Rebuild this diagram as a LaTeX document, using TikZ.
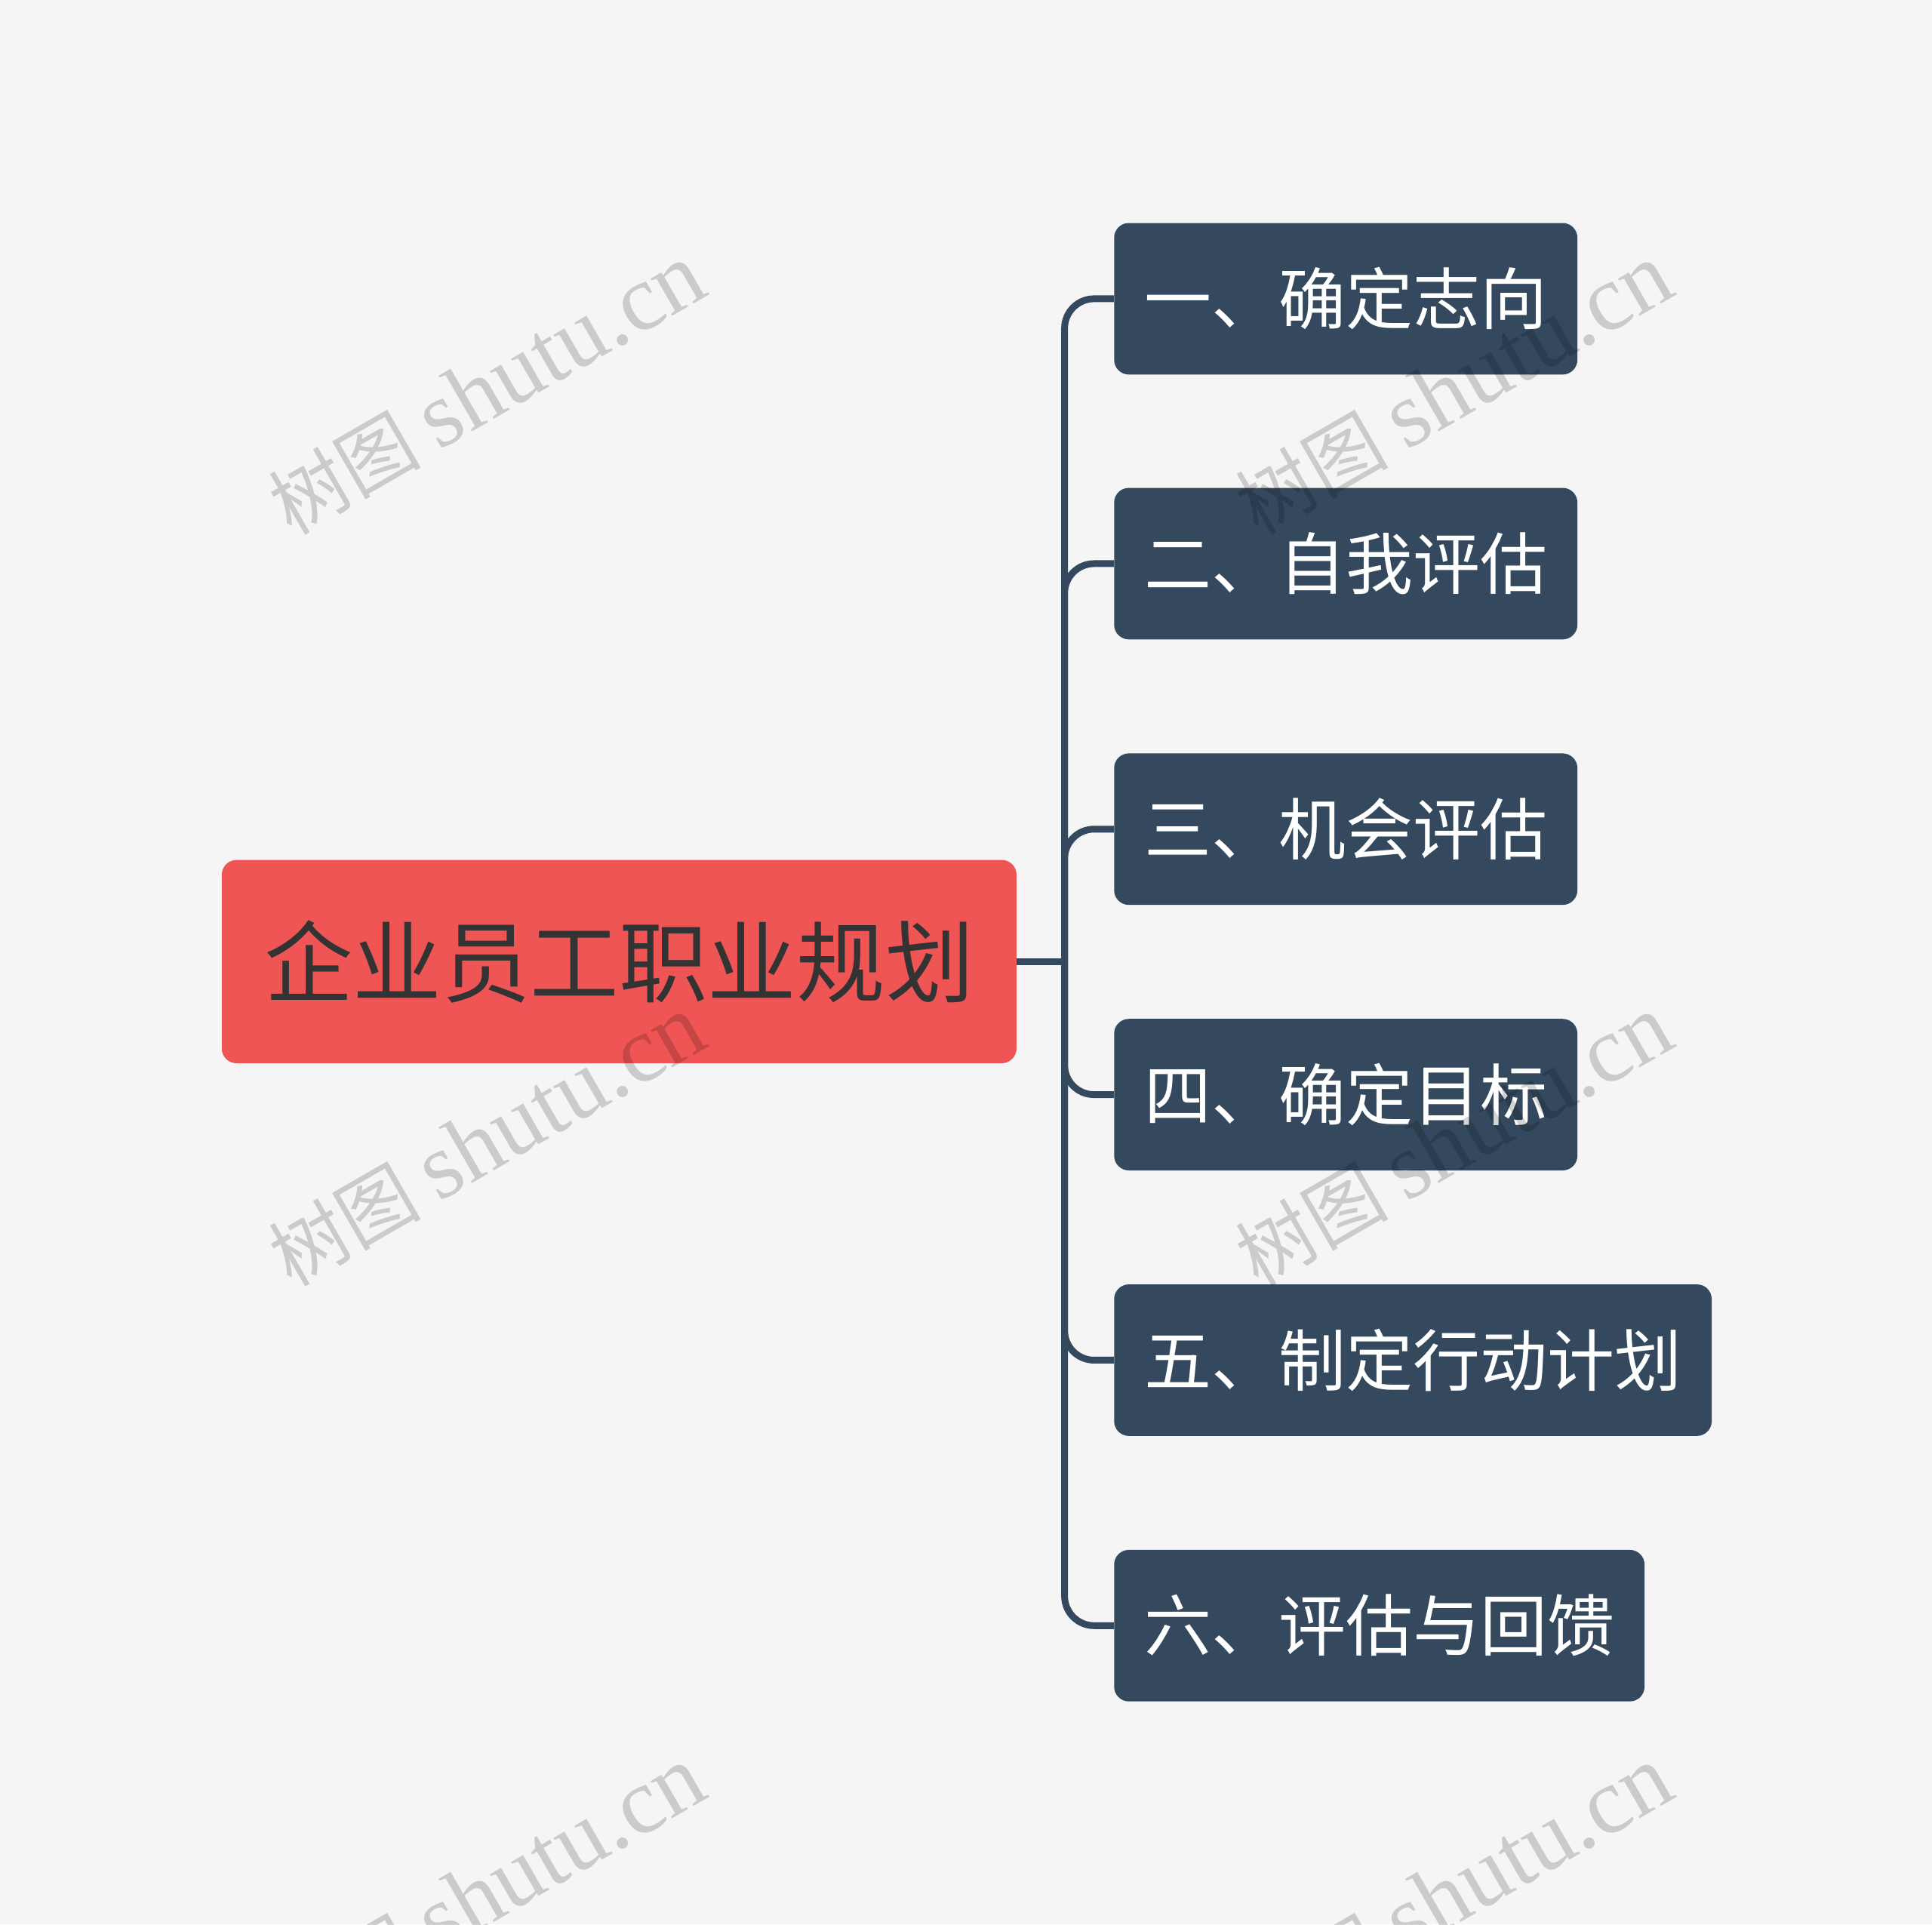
\documentclass[tikz,border=0pt]{standalone}
\usepackage{fontspec}
\setmainfont{Liberation Serif}
\newfontfamily\cjk{Noto Sans CJK SC}
\definecolor{bgcol}{HTML}{F5F5F5}
\definecolor{rootred}{HTML}{EF5555}
\definecolor{slate}{HTML}{34495E}
\definecolor{roottext}{HTML}{333333}
\begin{document}
\begin{tikzpicture}[x=1pt,y=-1pt,
  rootbox/.style={fill=rootred, rounded corners=12pt, minimum width=645pt, minimum height=165pt, inner xsep=0pt, inner ysep=0pt, text=roottext, font=\cjk\fontsize{72}{72}\selectfont},
  childbox/.style={fill=slate, rounded corners=12pt, minimum height=123pt, inner xsep=24.5pt, inner ysep=0pt, text=white, font=\cjk\fontsize{54.5}{54.5}\selectfont, anchor=west},
  link/.style={draw=slate, line width=5.5pt, rounded corners=24pt},
  wm/.style={rotate=30, text=black, text opacity=0.17, inner sep=0pt, font=\fontsize{76}{76}\selectfont}
]
\fill[bgcol] (0,0) rectangle (1568,1562);
\useasboundingbox (0,0) rectangle (1568,1562);

\node[rootbox] (root) at (502.5,780.5) {企业员工职业规划};
\node[childbox] (c1) at (904,242.5) {一、确定志向};
\node[childbox] (c2) at (904,457.5) {二、自我评估};
\node[childbox] (c3) at (904,673) {三、机会评估};
\node[childbox] (c4) at (904,888.5) {四、确定目标};
\node[childbox] (c5) at (904,1104) {五、制定行动计划};
\node[childbox] (c6) at (904,1319.5) {六、评估与回馈};

\coordinate (j) at (864,780.5);
\draw[link] (root.east) -- (j);
\foreach \c in {c1,c2,c3,c4,c5,c6}{
  \draw[link] (j) |- (\c.west);
}

\newcommand{\wmtext}{{\cjk\fontsize{62}{62}\selectfont 树图}\hspace{14pt}shutu.cn}
\node[wm] (wm1) at (395,316) {\wmtext};
\node[wm] (wm2) at (1180,316) {\wmtext};
\node[wm] (wm3) at (395,926) {\wmtext};
\node[wm] (wm4) at (1180,926) {\wmtext};
\node[wm] (wm5) at (395,1536) {\wmtext};
\node[wm] (wm6) at (1180,1536) {\wmtext};
\end{tikzpicture}
\end{document}
